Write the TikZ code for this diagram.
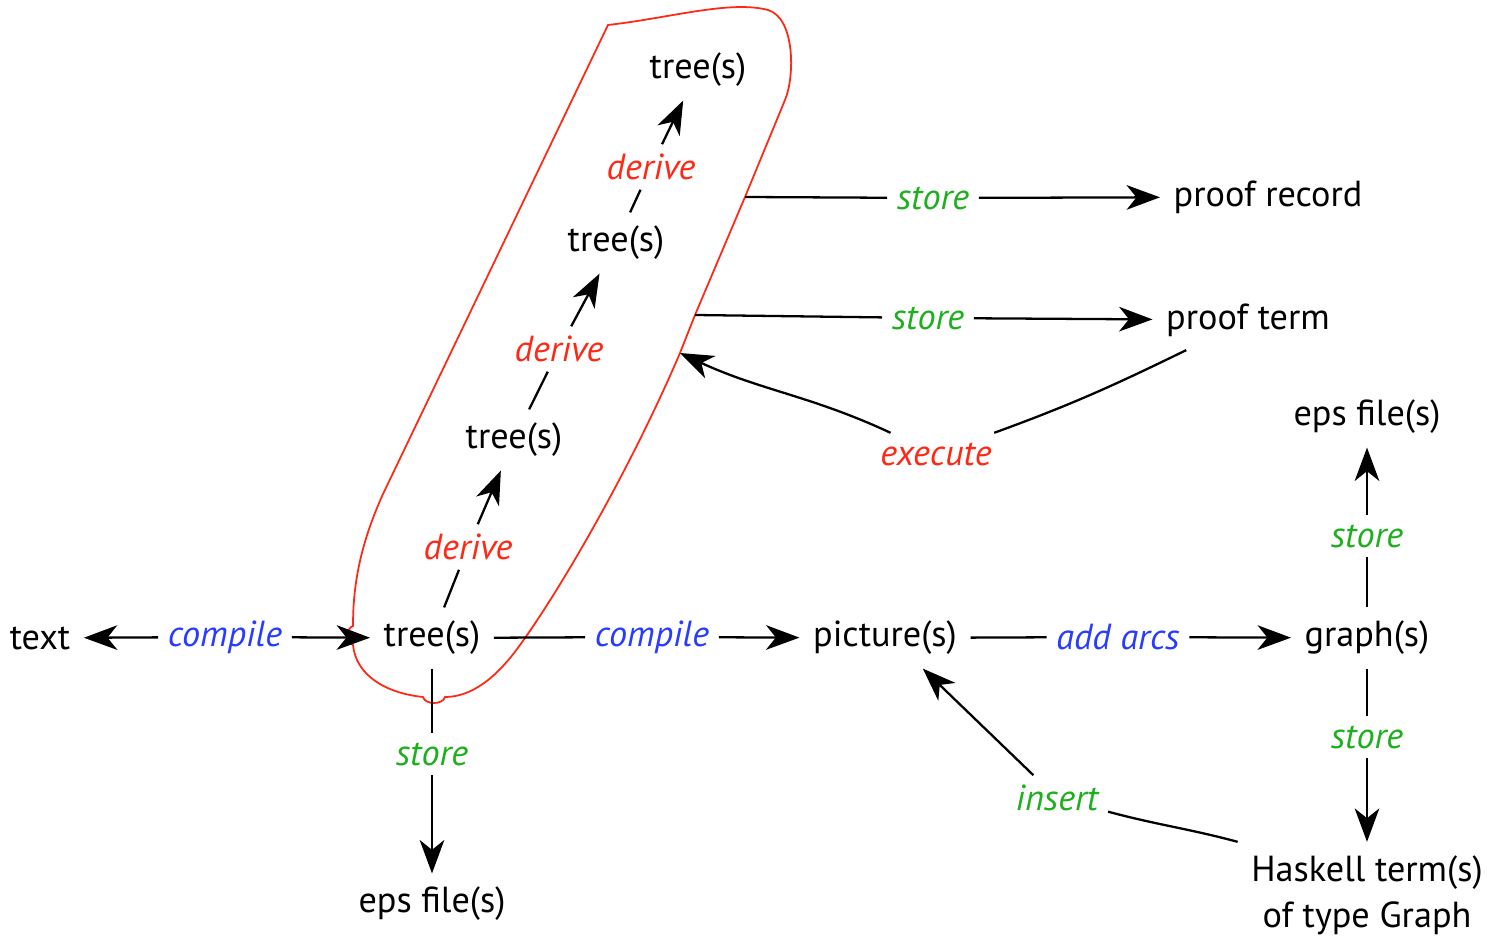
\documentclass[tikz,border=0pt]{standalone}
\usepackage{fontspec}
\setmainfont{PT Sans}
\usetikzlibrary{arrows.meta, positioning}
\definecolor{opblue}{RGB}{40, 60, 255}
\definecolor{opgreen}{RGB}{30, 175, 30}
\definecolor{opred}{RGB}{255, 40, 20}

\begin{document}
\begin{tikzpicture}[
        x=0.01cm, y=-0.01cm,
        every node/.style={font=\fontsize{10.3}{13}\selectfont, align=center},
        obj/.style={inner sep=0.13cm},
        lbl/.style={inner sep=0.09cm, font=\fontsize{10.3}{13}\selectfont\itshape},
        mk/.style={lbl, text=opblue},
        keep/.style={lbl, text=opgreen},
        run/.style={lbl, text=opred},
        arr/.style={-{Stealth[length=9.5pt, width=7pt, inset=2.8pt]}, line width=0.65pt},
        ln/.style={line width=0.65pt},
        blob/.style={draw=opred, line width=0.5pt}
    ]
        \useasboundingbox (0,0) rectangle (1487,946);

        % Objects
        \node[obj] (txt)  at (40, 638)   {text};
        \node[obj] (t0)   at (432, 638)  {tree(s)};
        \node[obj] (t1)   at (514, 440)  {tree(s)};
        \node[obj] (t2)   at (616, 243)  {tree(s)};
        \node[obj] (t3)   at (698, 70)   {tree(s)};
        \node[obj] (pic)  at (885, 638)  {picture(s)};
        \node[obj] (gr)   at (1367, 638) {graph(s)};
        \node[obj] (eps1) at (432, 904)  {eps file(s)};
        \node[obj] (eps2) at (1367, 417) {eps file(s)};
        \node[obj] (hk)   at (1367, 895) {Haskell term(s)\\ of type Graph};
        \node[obj] (rec)  at (1268, 197) {proof record};
        \node[obj] (pt)   at (1248, 320) {proof term};

        % Operation labels
        \node[mk]   (c1)  at (225, 637)  {compile};
        \node[mk]   (c2)  at (652, 637)  {compile};
        \node[mk]   (aa)  at (1118, 637) {add arcs};
        \node[keep] (s0)  at (432, 754)  {store};
        \node[keep] (s1)  at (933, 198)  {store};
        \node[keep] (s2)  at (928, 318)  {store};
        \node[keep] (s3)  at (1367, 536) {store};
        \node[keep] (s4)  at (1367, 737) {store};
        \node[keep] (ins) at (1057, 798) {insert};
        \node[run]  (d1)  at (468, 547)  {derive};
        \node[run]  (d2)  at (559, 349)  {derive};
        \node[run]  (d3)  at (651, 167)  {derive};
        \node[run]  (ex)  at (936, 454)  {execute};

        % Derivation group
        \coordinate (b1) at (745, 197);
        \coordinate (b2) at (695, 315);
        \coordinate (b3) at (680, 353);
        \draw[blob] (608, 25) .. controls (670, 18) and (730, 0) .. (768, 10)
            .. controls (795, 18) and (795, 76) .. (785, 100)
            -- (b1) -- (b2) -- (b3)
            .. controls (630, 470) and (560, 590) .. (520, 645)
            .. controls (495, 680) and (470, 697) .. (445, 697)
            .. controls (443, 705) and (425, 705) .. (423, 697)
            .. controls (385, 693) and (356, 675) .. (353, 645)
            .. controls (346, 643) and (346, 628) .. (353, 626)
            .. controls (353, 585) and (360, 545) .. (383, 494)
            -- cycle;

        % Arrows
        \draw[arr] (c1) -- (txt);
        \draw[arr] (c1) -- (t0);
        \draw[ln]  (t0) -- (c2);
        \draw[arr] (c2) -- (pic);
        \draw[ln]  (pic) -- (aa);
        \draw[arr] (aa) -- (gr);
        \draw[ln]  (gr) -- (s3);
        \draw[arr] (s3) -- (eps2);
        \draw[ln]  (gr) -- (s4);
        \draw[arr] (s4) -- (hk);
        \draw[ln]  (t0) -- (s0);
        \draw[arr] (s0) -- (eps1);

        \draw[ln]  (t0) -- (d1);
        \draw[arr] (d1) -- (t1);
        \draw[ln]  (t1) -- (d2);
        \draw[arr] (d2) -- (t2);
        \draw[ln]  (t2) -- (d3);
        \draw[arr] (d3) -- (t3);

        \draw[ln]  (b1) -- (s1);
        \draw[arr] (s1) -- (rec);
        \draw[ln]  (b2) -- (s2);
        \draw[arr] (s2) -- (pt);

        \draw[ln]  (pt.206) to[out=206, in=20] (ex);
        \draw[arr] (ex) to[out=155, in=-25] (b3);
        \draw[ln]  (hk.north west) to[out=165, in=-15] (ins);
        \draw[arr] (ins) -- (pic.-39);
    \end{tikzpicture}
\end{document}
